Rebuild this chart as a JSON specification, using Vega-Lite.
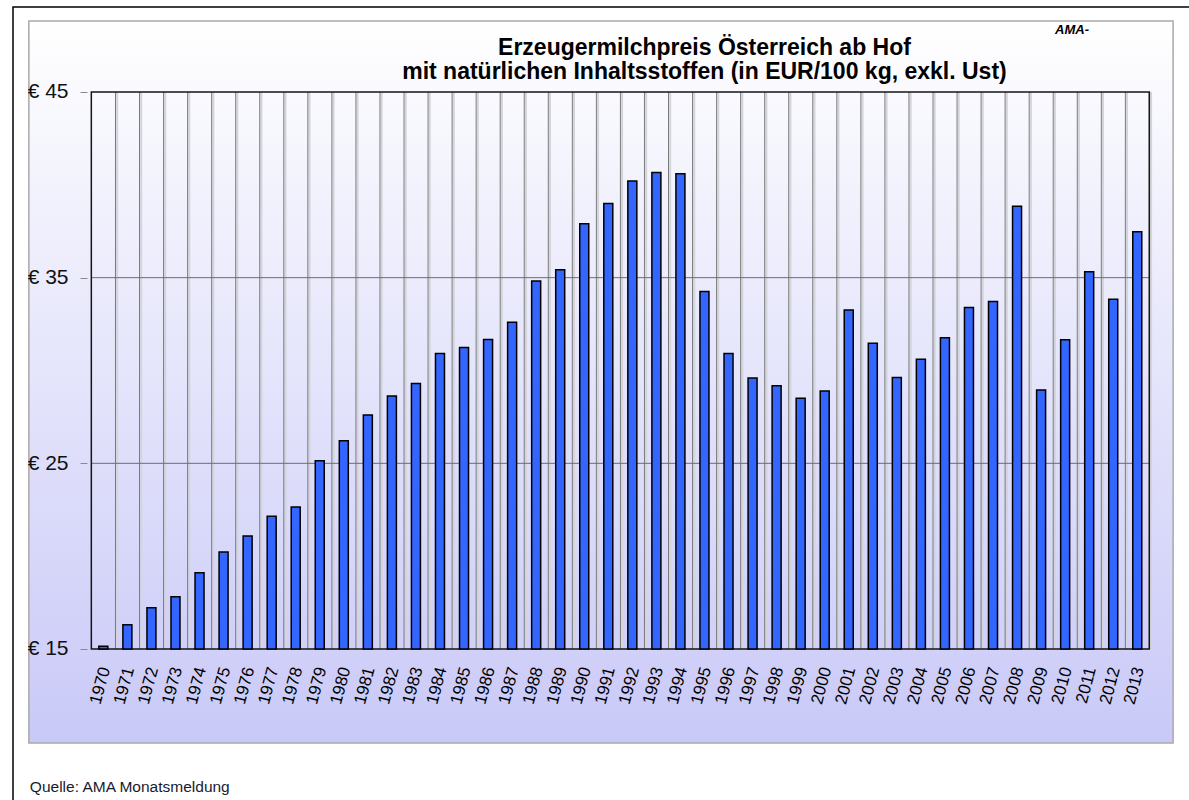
{
  "$schema": "https://vega.github.io/schema/vega-lite/v6.json",
  "width": 1181,
  "height": 793,
  "autosize": {"type": "none"},
  "padding": {"left": 8, "top": 7, "right": 0, "bottom": 0},
  "background": "#ffffff",
  "config": {"view": {"stroke": null}, "font": "Liberation Sans"},
  "data": {"values": [
    {"Jahr": 1970, "Preis": 15.15}, {"Jahr": 1971, "Preis": 16.31}, {"Jahr": 1972, "Preis": 17.22},
    {"Jahr": 1973, "Preis": 17.82}, {"Jahr": 1974, "Preis": 19.11}, {"Jahr": 1975, "Preis": 20.22},
    {"Jahr": 1976, "Preis": 21.09}, {"Jahr": 1977, "Preis": 22.15}, {"Jahr": 1978, "Preis": 22.65},
    {"Jahr": 1979, "Preis": 25.14}, {"Jahr": 1980, "Preis": 26.22}, {"Jahr": 1981, "Preis": 27.6},
    {"Jahr": 1982, "Preis": 28.62}, {"Jahr": 1983, "Preis": 29.3}, {"Jahr": 1984, "Preis": 30.91},
    {"Jahr": 1985, "Preis": 31.24}, {"Jahr": 1986, "Preis": 31.67}, {"Jahr": 1987, "Preis": 32.6},
    {"Jahr": 1988, "Preis": 34.82}, {"Jahr": 1989, "Preis": 35.43}, {"Jahr": 1990, "Preis": 37.9},
    {"Jahr": 1991, "Preis": 39.0}, {"Jahr": 1992, "Preis": 40.2}, {"Jahr": 1993, "Preis": 40.67},
    {"Jahr": 1994, "Preis": 40.6}, {"Jahr": 1995, "Preis": 34.25}, {"Jahr": 1996, "Preis": 30.91},
    {"Jahr": 1997, "Preis": 29.6}, {"Jahr": 1998, "Preis": 29.18}, {"Jahr": 1999, "Preis": 28.5},
    {"Jahr": 2000, "Preis": 28.9}, {"Jahr": 2001, "Preis": 33.26}, {"Jahr": 2002, "Preis": 31.47},
    {"Jahr": 2003, "Preis": 29.62}, {"Jahr": 2004, "Preis": 30.61}, {"Jahr": 2005, "Preis": 31.77},
    {"Jahr": 2006, "Preis": 33.39}, {"Jahr": 2007, "Preis": 33.71}, {"Jahr": 2008, "Preis": 38.85},
    {"Jahr": 2009, "Preis": 28.95}, {"Jahr": 2010, "Preis": 31.65}, {"Jahr": 2011, "Preis": 35.32},
    {"Jahr": 2012, "Preis": 33.84}, {"Jahr": 2013, "Preis": 37.47}
  ]},
  "layer": [
    {
      "data": {"values": [{}]},
      "mark": {"type": "rect", "fill": {"gradient": "linear", "x1": 0, "y1": 0, "x2": 0, "y2": 1, "stops": [{"offset": 0, "color": "#ffffff"}, {"offset": 1, "color": "#c9c9f8"}]}, "stroke": "#a9a9a9", "strokeWidth": 1.5},
      "encoding": {
        "x": {"datum": 1966.902, "type": "quantitative", "scale": {"domain": [1966.2423, 2014.943], "nice": false, "zero": false}, "axis": null},
        "x2": {"datum": 2014.49},
        "y": {"datum": 48.824, "type": "quantitative", "scale": {"domain": [6.867, 49.578], "nice": false, "zero": false},
              "axis": {"values": [15, 25, 35, 45], "labelExpr": "'€ ' + datum.value", "offset": -79, "zindex": 2, "domain": false, "grid": false, "ticks": true, "tickSize": 7, "tickColor": "#8a8a8a", "labelFontSize": 21, "labelFont": "Liberation Sans", "labelColor": "#111111", "labelPadding": 12, "title": null}},
        "y2": {"datum": 9.937}
      }
    },
    {
      "data": {"values": [{}]},
      "mark": {"type": "rect", "filled": false, "stroke": "#000000", "strokeWidth": 1.5},
      "encoding": {
        "x": {"datum": 1966.2423, "type": "quantitative", "axis": null},
        "x2": {"datum": 2016.5},
        "y": {"datum": 49.578, "type": "quantitative"},
        "y2": {"datum": 5}
      }
    },
    {
      "mark": {"type": "rule", "xOffset": 13.8, "color": "#d4d4dc", "strokeWidth": 2},
      "encoding": {
        "x": {"field": "Jahr", "type": "quantitative", "axis": null},
        "y": {"datum": 15, "type": "quantitative"},
        "y2": {"datum": 45}
      }
    },
    {
      "mark": {"type": "rule", "xOffset": 12.125, "color": "#7a7a7a", "strokeWidth": 1},
      "encoding": {
        "x": {"field": "Jahr", "type": "quantitative", "axis": null},
        "y": {"datum": 15, "type": "quantitative"},
        "y2": {"datum": 45}
      }
    },
    {
      "data": {"values": [{"g": 25}, {"g": 35}]},
      "mark": {"type": "rule", "color": "#6e6e6e", "strokeWidth": 1},
      "encoding": {
        "y": {"field": "g", "type": "quantitative"},
        "x": {"datum": 1969.5, "type": "quantitative", "axis": null},
        "x2": {"datum": 2013.5}
      }
    },
    {
      "data": {"values": [{}]},
      "mark": {"type": "rect", "filled": false, "stroke": "#151515", "strokeWidth": 1.5},
      "encoding": {
        "x": {"datum": 1969.5, "type": "quantitative", "axis": null},
        "x2": {"datum": 2013.5},
        "y": {"datum": 45, "type": "quantitative"},
        "y2": {"datum": 15}
      }
    },
    {
      "mark": {"type": "bar", "size": 9, "fill": "#3366ff", "stroke": "#000000", "strokeWidth": 1.5},
      "encoding": {
        "x": {"field": "Jahr", "type": "quantitative", "scale": {"domain": [1966.2423, 2014.943], "nice": false, "zero": false}, "axis": null},
        "y": {"field": "Preis", "type": "quantitative"},
        "y2": {"datum": 15}
      }
    },
    {
      "mark": {"type": "text", "angle": 285, "align": "right", "baseline": "middle", "fontSize": 17, "font": "Liberation Sans", "color": "#000000", "dy": 2},
      "encoding": {
        "x": {"field": "Jahr", "type": "quantitative", "axis": null},
        "y": {"datum": 14.03, "type": "quantitative"},
        "text": {"field": "Jahr", "type": "nominal"}
      }
    },
    {
      "data": {"values": [{}]},
      "mark": {"type": "text", "text": ["Erzeugermilchpreis Österreich ab Hof", "mit natürlichen Inhaltsstoffen (in EUR/100 kg, exkl. Ust)"], "fontSize": 23, "fontWeight": "bold", "font": "Liberation Sans", "align": "center", "baseline": "alphabetic", "lineHeight": 24, "color": "#000000"},
      "encoding": {
        "x": {"datum": 1995.0, "type": "quantitative", "axis": null},
        "y": {"datum": 46.993, "type": "quantitative"}
      }
    },
    {
      "data": {"values": [{}]},
      "mark": {"type": "text", "text": "AMA-", "fontSize": 13, "fontWeight": "bold", "fontStyle": "italic", "font": "Liberation Sans", "align": "left", "baseline": "alphabetic", "color": "#000000"},
      "encoding": {
        "x": {"datum": 2009.58, "type": "quantitative", "axis": null},
        "y": {"datum": 48.15, "type": "quantitative"}
      }
    },
    {
      "data": {"values": [{}]},
      "mark": {"type": "text", "text": "Quelle: AMA Monatsmeldung", "fontSize": 15.5, "font": "Liberation Sans", "align": "left", "baseline": "alphabetic", "color": "#1a1a2e"},
      "encoding": {
        "x": {"datum": 1966.943, "type": "quantitative", "axis": null},
        "y": {"datum": 7.298, "type": "quantitative"}
      }
    }
  ]
}
